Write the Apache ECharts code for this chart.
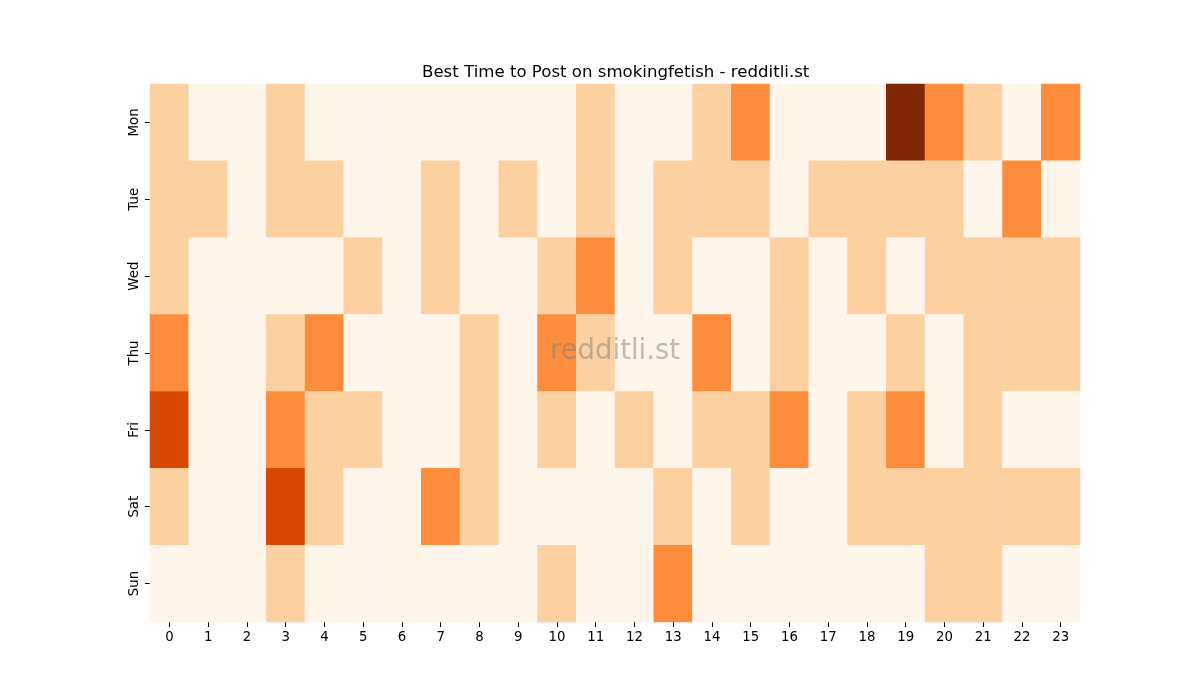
<!DOCTYPE html>
<html>
<head>
	<meta charset="UTF-8">
	<title>Best Time to Post</title>
	<style>
		html, body { margin: 0; padding: 0; background: #fff; }
		#chart { width: 1200px; height: 700px; }
	</style>
</head>
<body>
	<div id="chart"></div>
	<script src="https://cdn.jsdelivr.net/npm/echarts@6/dist/echarts.min.js"></script>
	<script type="text/javascript">
		// hours along the bottom
		var hours = ['0','1','2','3','4','5','6','7','8','9','10','11','12','13','14','15','16','17','18','19','20','21','22','23'];
		// days, top to bottom
		var days = ['Mon', 'Tue', 'Wed', 'Thu', 'Fri', 'Sat', 'Sun'];

		// post counts per day, one value per hour
		var mon = [1,0,0,1,0,0,0,0,0,0,0,1,0,0,1,2,0,0,0,4,2,1,0,2];
		var tue = [1,1,0,1,1,0,0,1,0,1,0,1,0,1,1,1,0,1,1,1,1,0,2,0];
		var wed = [1,0,0,0,0,1,0,1,0,0,1,2,0,1,0,0,1,0,1,0,1,1,1,1];
		var thu = [2,0,0,1,2,0,0,0,1,0,2,1,0,0,2,0,1,0,0,1,0,1,1,1];
		var fri = [3,0,0,2,1,1,0,0,1,0,1,0,1,0,1,1,2,0,1,2,0,1,0,0];
		var sat = [1,0,0,3,1,0,0,2,1,0,0,0,0,1,0,1,0,0,1,1,1,1,1,1];
		var sun = [0,0,0,1,0,0,0,0,0,0,1,0,0,2,0,0,0,0,0,0,1,1,0,0];

		var rows = [mon, tue, wed, thu, fri, sat, sun];

		// [hour, day, value] for the heatmap
		var cells = [];
		rows.forEach(function(row, d) {
			row.forEach(function(v, h) {
				cells.push([h, d, v]);
			});
		});

		var font = 'DejaVu Sans';
		var myChart = echarts.init(document.getElementById('chart'));

		var option = {
			animation: false,
			backgroundColor: '#ffffff',
			title: {
				text: 'Best Time to Post on smokingfetish - redditli.st',
				left: 417,
				top: 59,
				textStyle: { fontFamily: font, fontSize: 16.6, fontWeight: 'normal', color: '#000' }
			},
			graphic: [{
				type: 'text',
				left: 550,
				top: 338,
				z: 100,
				silent: true,
				style: {
					text: 'redditli.st',
					font: '27.5px "DejaVu Sans"',
					fill: 'rgba(128,128,128,0.5)'
				}
			}],
			grid: { left: 150, right: 120, top: 84, bottom: 78 },
			xAxis: {
				type: 'category',
				data: hours,
				axisLine: { show: false },
				axisTick: { show: true, alignWithLabel: true, length: 5, lineStyle: { color: '#000' } },
				axisLabel: { fontFamily: font, fontSize: 13.3, color: '#000', margin: 9 },
				splitLine: { show: false }
			},
			yAxis: {
				type: 'category',
				data: days,
				inverse: true,
				axisLine: { show: false },
				axisTick: { show: true, alignWithLabel: true, length: 5, lineStyle: { color: '#000' } },
				axisLabel: { fontFamily: font, fontSize: 13.3, color: '#000', rotate: 90, margin: 9 },
				splitLine: { show: false }
			},
			visualMap: {
				type: 'piecewise',
				show: false,
				dimension: 2,
				pieces: [
					{ value: 0, color: '#fff5eb' },
					{ value: 1, color: '#fdd0a2' },
					{ value: 2, color: '#fd8d3c' },
					{ value: 3, color: '#d94801' },
					{ value: 4, color: '#7f2704' }
				]
			},
			series: [{
				type: 'heatmap',
				data: cells,
				itemStyle: { borderWidth: 0 },
				emphasis: { disabled: true }
			}]
		};

		myChart.setOption(option);
	</script>
</body>
</html>
